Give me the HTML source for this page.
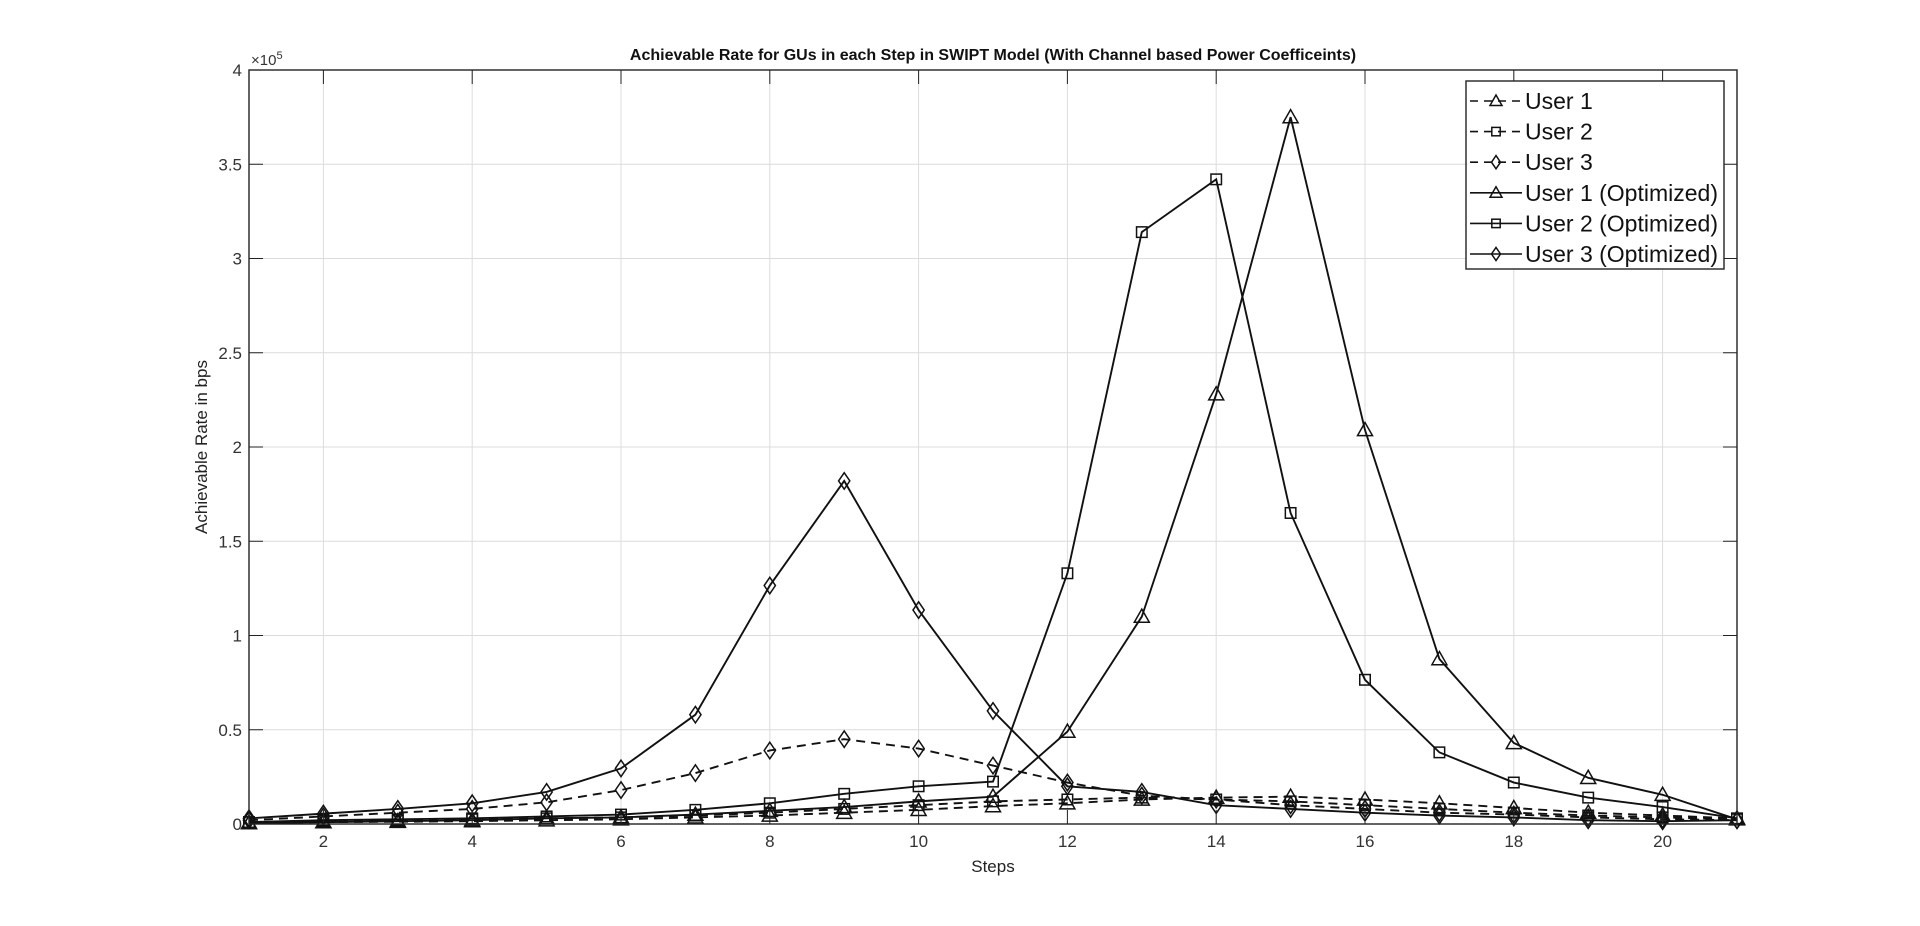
<!DOCTYPE html>
<html><head><meta charset="utf-8"><style>
body{margin:0;background:#fff;}
svg{display:block;font-family:"Liberation Sans",Arial,sans-serif;}
</style></head><body>
<svg id="chart" width="1920" height="926" viewBox="0 0 1920 926" xmlns="http://www.w3.org/2000/svg">
<rect width="1920" height="926" fill="#fff"/>
<g id="grid"></g>
<g id="series"></g>
<g id="axes"></g>
<text x="993" y="60" text-anchor="middle" font-size="16" font-weight="bold" fill="#111">Achievable Rate for GUs in each Step in SWIPT Model (With Channel based Power Coefficeints)</text>
<text x="993" y="872" text-anchor="middle" font-size="17" fill="#222">Steps</text>
<text transform="translate(207,447) rotate(-90)" text-anchor="middle" font-size="17" fill="#222">Achievable Rate in bps</text>
<text x="251" y="65" font-size="15" fill="#333">×10<tspan font-size="11" dy="-6">5</tspan></text>
<g id="legend"></g>
</svg>
<script>
const steps=[1,2,3,4,5,6,7,8,9,10,11,12,13,14,15,16,17,18,19,20,21];
const user1=[0.005,0.01,0.012,0.015,0.02,0.025,0.035,0.045,0.06,0.075,0.095,0.11,0.13,0.14,0.145,0.13,0.11,0.085,0.06,0.045,0.03];
const user2=[0.01,0.015,0.02,0.025,0.03,0.035,0.045,0.06,0.08,0.10,0.12,0.13,0.14,0.13,0.12,0.10,0.08,0.06,0.045,0.035,0.025];
const user3=[0.02,0.04,0.06,0.08,0.115,0.18,0.27,0.39,0.45,0.40,0.31,0.22,0.15,0.13,0.10,0.08,0.06,0.05,0.035,0.025,0.02];
const user1Opt=[0.005,0.01,0.015,0.02,0.03,0.035,0.05,0.07,0.09,0.12,0.145,0.49,1.10,2.28,3.75,2.09,0.875,0.43,0.245,0.155,0.025];
const user2Opt=[0.01,0.02,0.025,0.03,0.04,0.05,0.075,0.11,0.16,0.20,0.225,1.33,3.14,3.42,1.65,0.765,0.38,0.22,0.14,0.09,0.03];
const user3Opt=[0.03,0.055,0.08,0.11,0.17,0.295,0.58,1.265,1.82,1.135,0.60,0.20,0.17,0.10,0.08,0.06,0.045,0.035,0.02,0.015,0.02];
const xTicks=[2,4,6,8,10,12,14,16,18,20];
const yTicks=[0,0.5,1,1.5,2,2.5,3,3.5,4];
const yTickLabels=["0","0.5","1","1.5","2","2.5","3","3.5","4"];
const legendLabels=["User 1","User 2","User 3","User 1 (Optimized)","User 2 (Optimized)","User 3 (Optimized)"];

const L=249,R=1737,T=70,B=824;
const X=v=>L+(v-1)/(21-1)*(R-L);
const Y=v=>B-v/4*(B-T);
const NS="http://www.w3.org/2000/svg";
function mk(tag,parent,attrs){const e=document.createElementNS(NS,tag);for(const k in attrs)e.setAttribute(k,attrs[k]);parent.appendChild(e);return e;}
const grid=document.getElementById('grid'),axes=document.getElementById('axes'),ser=document.getElementById('series'),leg=document.getElementById('legend');

xTicks.forEach(t=>{
  const g=mk('line',grid,{x1:X(t),x2:X(t),y1:T,y2:B,stroke:'#dcdcdc','stroke-width':1});
  
  
  mk('line',axes,{x1:X(t),x2:X(t),y1:B,y2:B-14,stroke:'#222'});
  mk('line',axes,{x1:X(t),x2:X(t),y1:T,y2:T+14,stroke:'#222'});
  const tx=mk('text',axes,{x:X(t),y:B+23,'text-anchor':'middle','font-size':17,fill:'#333'});
  tx.textContent=t;
  
  
});
yTicks.forEach((t,i)=>{
  const g=mk('line',grid,{x1:L,x2:R,y1:Y(t),y2:Y(t),stroke:'#dcdcdc','stroke-width':1});
  
  
  mk('line',axes,{x1:L,x2:L+14,y1:Y(t),y2:Y(t),stroke:'#222'});
  mk('line',axes,{x1:R,x2:R-14,y1:Y(t),y2:Y(t),stroke:'#222'});
  const tx=mk('text',axes,{x:L-7,y:Y(t)+6,'text-anchor':'end','font-size':17,fill:'#333'});
  tx.textContent=yTickLabels[i];
  
  
});
const frame=mk('rect',axes,{x:L,y:T,width:R-L,height:B-T,fill:'none',stroke:'#222','stroke-width':1.4});



function marker(parent,type,x,y,s){
  if(type==='tri') return mk('polygon',parent,{points:`${x},${y-s} ${x-s},${y+s*0.75} ${x+s},${y+s*0.75}`,fill:'none',stroke:'#111','stroke-width':1.5});
  if(type==='sq') return mk('rect',parent,{x:x-s*0.7,y:y-s*0.7,width:s*1.4,height:s*1.4,fill:'none',stroke:'#111','stroke-width':1.5});
  return mk('polygon',parent,{points:`${x},${y-s*1.1} ${x+s*0.75},${y} ${x},${y+s*1.1} ${x-s*0.75},${y}`,fill:'none',stroke:'#111','stroke-width':1.5});
}
const seriesList=[
  {d:user1,m:'tri',dash:'9,6',n:'user-1'},
  {d:user2,m:'sq',dash:'9,6',n:'user-2'},
  {d:user3,m:'dia',dash:'9,6',n:'user-3'},
  {d:user1Opt,m:'tri',dash:'',n:'user-1-optimized'},
  {d:user2Opt,m:'sq',dash:'',n:'user-2-optimized'},
  {d:user3Opt,m:'dia',dash:'',n:'user-3-optimized'}];
seriesList.forEach(s=>{
  const g=mk('g',ser,{});
  
  
  const pts=s.d.map((v,i)=>X(steps[i])+','+Y(v)).join(' ');
  const attrs={points:pts,fill:'none',stroke:'#111','stroke-width':1.9};
  if(s.dash)attrs['stroke-dasharray']=s.dash;
  const pl=mk('polyline',g,attrs);
  
  
  s.d.forEach((v,i)=>{
    const m=marker(g,s.m,X(steps[i]),Y(v),7.5);
    
    
  });
});

const lb=mk('rect',leg,{x:1466,y:81,width:258,height:188,fill:'#fff',stroke:'#222','stroke-width':1.4});


seriesList.forEach((s,i)=>{
  const y=101+i*30.6;
  const g=mk('g',leg,{});
  
  
  const a={x1:1470,x2:1522,y1:y,y2:y,stroke:'#111','stroke-width':1.6};
  if(s.dash)a['stroke-dasharray']='8,6';
  mk('line',g,a);
  marker(g,s.m,1496,y,6);
  const t=mk('text',g,{x:1525,y:y+8,'font-size':23,fill:'#111'});
  t.textContent=legendLabels[i];
});
</script>
</body></html>
